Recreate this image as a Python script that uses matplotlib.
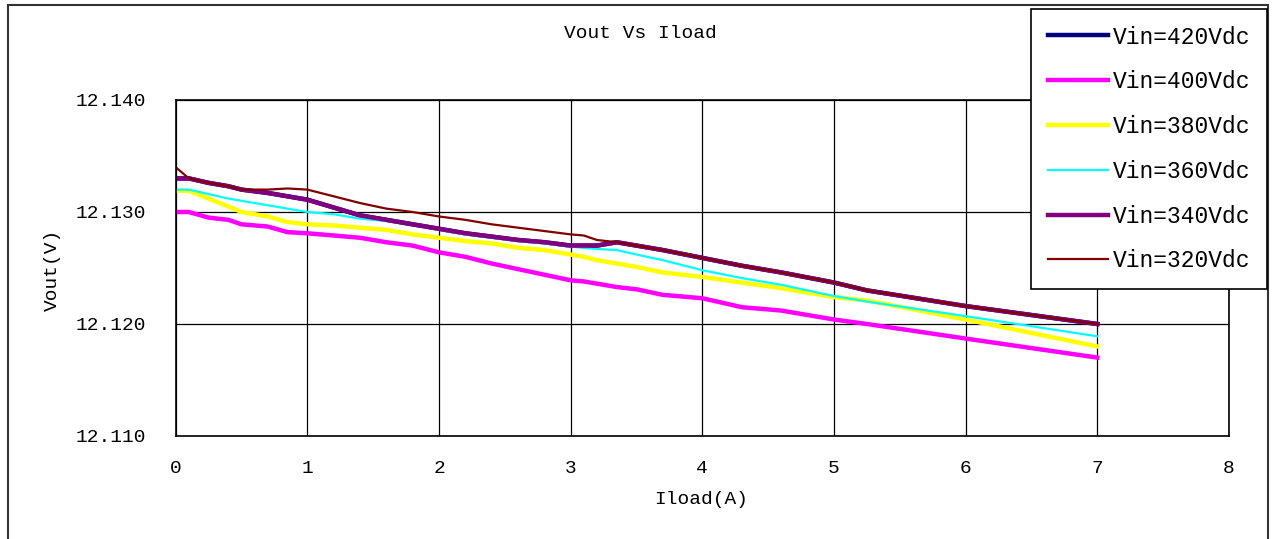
import matplotlib
matplotlib.use("Agg")
import matplotlib.pyplot as plt
from matplotlib.patches import Rectangle
from matplotlib.ticker import FormatStrFormatter

plt.rcParams["font.family"] = ["Liberation Mono", "DejaVu Sans Mono"]

# Iload (A) sample points
iload = [0, 0.1, 0.25, 0.4, 0.5, 0.7, 0.85, 1.0, 1.2, 1.4, 1.6, 1.8, 2.0, 2.2, 2.4,
         2.6, 2.8, 3.0, 3.1, 3.2, 3.35, 3.5, 3.7, 4.0, 4.3, 4.6, 5.0, 5.25, 6.0, 7.0]

# Vout (V) per input voltage
vin_420 = [12.1330, 12.1330, 12.1326, 12.1323, 12.1320, 12.1317, 12.1314, 12.1311,
           12.1304, 12.1297, 12.1293, 12.1289, 12.1285, 12.1281, 12.1278, 12.1275,
           12.1273, 12.1270, 12.1270, 12.1270, 12.1273, 12.1270, 12.1266, 12.1259,
           12.1252, 12.1246, 12.1237, 12.1230, 12.1216, 12.1200]
vin_400 = [12.1300, 12.1300, 12.1295, 12.1293, 12.1289, 12.1287, 12.1282, 12.1281,
           12.1279, 12.1277, 12.1273, 12.1270, 12.1264, 12.1260, 12.1254, 12.1249,
           12.1244, 12.1239, 12.1238, 12.1236, 12.1233, 12.1231, 12.1226, 12.1223,
           12.1215, 12.1212, 12.1204, 12.1200, 12.1187, 12.1170]
vin_380 = [12.1319, 12.1319, 12.1312, 12.1305, 12.1300, 12.1296, 12.1291, 12.1289,
           12.1288, 12.1286, 12.1284, 12.1280, 12.1277, 12.1274, 12.1272, 12.1268,
           12.1266, 12.1262, 12.1260, 12.1257, 12.1254, 12.1251, 12.1246, 12.1242,
           12.1237, 12.1232, 12.1224, 12.1221, 12.1204, 12.1180]
vin_360 = [12.1320, 12.1320, 12.1316, 12.1312, 12.1310, 12.1306, 12.1303, 12.1300,
           12.1298, 12.1294, 12.1292, 12.1289, 12.1284, 12.1280, 12.1277, 12.1274,
           12.1272, 12.1269, 12.1268, 12.1267, 12.1266, 12.1262, 12.1257, 12.1248,
           12.1241, 12.1235, 12.1225, 12.1220, 12.1207, 12.1189]
vin_340 = [12.1330, 12.1330, 12.1326, 12.1323, 12.1320, 12.1317, 12.1314, 12.1311,
           12.1304, 12.1297, 12.1293, 12.1289, 12.1285, 12.1281, 12.1278, 12.1275,
           12.1273, 12.1270, 12.1270, 12.1270, 12.1273, 12.1270, 12.1266, 12.1259,
           12.1252, 12.1246, 12.1237, 12.1230, 12.1216, 12.1200]
vin_320 = [12.1340, 12.1330, 12.1326, 12.1323, 12.1320, 12.1320, 12.1321, 12.1320,
           12.1314, 12.1308, 12.1303, 12.1300, 12.1296, 12.1293, 12.1289, 12.1286,
           12.1283, 12.1280, 12.1279, 12.1275, 12.1273, 12.1270, 12.1266, 12.1259,
           12.1252, 12.1246, 12.1237, 12.1230, 12.1216, 12.1200]

series = [
    ("Vin=420Vdc", vin_420, "#000080", 3.2),
    ("Vin=400Vdc", vin_400, "#ff00ff", 3.2),
    ("Vin=380Vdc", vin_380, "#ffff00", 3.2),
    ("Vin=360Vdc", vin_360, "#00ffff", 1.6),
    ("Vin=340Vdc", vin_340, "#800080", 3.2),
    ("Vin=320Vdc", vin_320, "#800000", 1.6),
]

W, H = 1272, 539
fig = plt.figure(figsize=(W / 100, H / 100), dpi=100)
ax = fig.add_axes([175.7 / W, 1 - 436 / H, (1229 - 175.7) / W, (436 - 100) / H])

for label, values, color, lw in series:
    ax.plot(iload, values, color=color, lw=lw, label=label, solid_joinstyle="round")

ax.set_xlim(0, 8)
ax.set_ylim(12.110, 12.140)
ax.set_xticks(range(0, 9))
ax.set_yticks([12.110, 12.120, 12.130, 12.140])
ax.yaxis.set_major_formatter(FormatStrFormatter("%.3f"))
ax.grid(True, color="black", lw=0.9)
ax.tick_params(length=0, labelsize=14)
ax.tick_params(axis="y", pad=21)
ax.tick_params(axis="x", pad=17)
for sp in ax.spines.values():
    sp.set_linewidth(1.2)

fig.text(640 / W, 1 - 33 / H, "Vout Vs Iload", ha="center", va="center", fontsize=14)
fig.text(701 / W, 1 - 500 / H, "Iload(A)", ha="center", va="center", fontsize=14)
fig.text(52 / W, 1 - 270 / H, "Vout(V)", ha="center", va="center", fontsize=14, rotation=90)

# outer chart frame
fig.patches.append(Rectangle((8 / W, -0.05), (1268 - 8) / W, 1.05 - 5 / H,
                             transform=fig.transFigure, fill=False,
                             edgecolor="#333333", lw=1.5))

leg = fig.legend(loc="upper left", bbox_to_anchor=(1031 / W, 1 - 9 / H),
                 fontsize=16.5, frameon=True, fancybox=False, edgecolor="black",
                 framealpha=1, handlelength=2.65, handletextpad=0.22,
                 labelspacing=0.95, borderpad=0.72, borderaxespad=0)
leg.get_frame().set_linewidth(1.2)
leg.set_zorder(10)

fig.savefig("out.png", dpi=100)
